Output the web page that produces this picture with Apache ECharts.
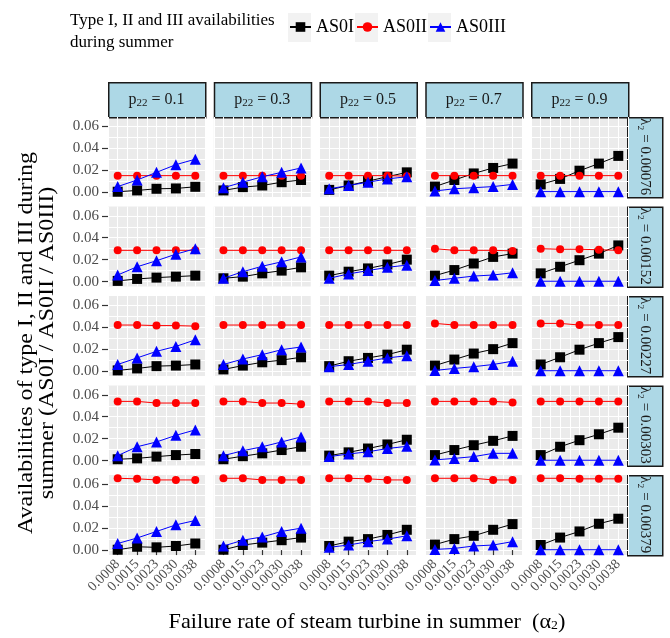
<!DOCTYPE html>
<html lang="en">
<head>
    <meta charset="UTF-8">
    <title>AS0 availabilities</title>
    <script src="https://cdn.jsdelivr.net/npm/echarts@6/dist/echarts.min.js"></script>
    <style type="text/css">
        *{
            padding: 0px;
            margin: 0px;
            border: 0px;
        }
        #main{
            width: 670px;
            height: 638px;
        }
    </style>
</head>
<body>
<div id="main"></div>
<script>

    // facet labels and ticks
    var xLabels = ['0.0008', '0.0015', '0.0023', '0.0030', '0.0038'];
    var p22Labels = ['0.1', '0.3', '0.5', '0.7', '0.9'];
    var lambdaLabels = ['0.00076', '0.00152', '0.00227', '0.00303', '0.00379'];
    var yTicks = [0, 0.02, 0.04, 0.06];
    var yGridValues = [0, 0.01, 0.02, 0.03, 0.04, 0.05, 0.06];

    // AS0I[row][col] -> 5 values, row = lambda2, col = p22
    var AS0I = [
        [[0.0003, 0.0015, 0.003, 0.0033, 0.0048], [0.0015, 0.0045, 0.006, 0.009, 0.011], [0.002, 0.006, 0.010, 0.014, 0.018], [0.005, 0.011, 0.017, 0.022, 0.026], [0.007, 0.012, 0.0195, 0.026, 0.033]],
        [[0.0006, 0.0024, 0.0036, 0.0045, 0.0054], [0.003, 0.0045, 0.0075, 0.010, 0.013], [0.0054, 0.009, 0.012, 0.0156, 0.020], [0.0054, 0.0105, 0.0165, 0.0225, 0.0255], [0.0075, 0.0135, 0.0195, 0.0255, 0.033]],
        [[0.0006, 0.0024, 0.0045, 0.005, 0.006], [0.0015, 0.005, 0.008, 0.010, 0.0126], [0.0045, 0.009, 0.012, 0.015, 0.0195], [0.005, 0.0105, 0.016, 0.020, 0.0255], [0.006, 0.0126, 0.0195, 0.0255, 0.031]],
        [[0.0012, 0.002, 0.0036, 0.005, 0.006], [0.0012, 0.004, 0.0066, 0.0096, 0.0126], [0.0045, 0.0075, 0.011, 0.0147, 0.019], [0.005, 0.0096, 0.014, 0.018, 0.0225], [0.005, 0.0126, 0.0186, 0.024, 0.030]],
        [[0.0003, 0.003, 0.0025, 0.0037, 0.006], [0.0003, 0.0046, 0.0068, 0.009, 0.0114], [0.0037, 0.0077, 0.010, 0.0138, 0.0185], [0.005, 0.010, 0.013, 0.0185, 0.0237], [0.0046, 0.0114, 0.017, 0.024, 0.0286]]
    ];
    var AS0II = [
        [[0.015, 0.015, 0.015, 0.015, 0.015], [0.015, 0.015, 0.015, 0.015, 0.015], [0.015, 0.015, 0.015, 0.015, 0.0145], [0.015, 0.015, 0.015, 0.015, 0.015], [0.015, 0.015, 0.015, 0.015, 0.015]],
        [[0.0285, 0.0285, 0.0285, 0.0285, 0.0285], [0.0285, 0.0285, 0.0285, 0.0285, 0.0285], [0.0285, 0.0285, 0.0285, 0.0285, 0.0285], [0.030, 0.0285, 0.0285, 0.0285, 0.028], [0.030, 0.0295, 0.0295, 0.029, 0.0285]],
        [[0.042, 0.042, 0.0415, 0.0415, 0.041], [0.042, 0.042, 0.042, 0.042, 0.042], [0.042, 0.042, 0.042, 0.042, 0.042], [0.0435, 0.042, 0.042, 0.042, 0.042], [0.0435, 0.0435, 0.042, 0.042, 0.042]],
        [[0.054, 0.054, 0.0525, 0.0525, 0.0525], [0.054, 0.054, 0.0525, 0.0525, 0.0515], [0.054, 0.054, 0.054, 0.0525, 0.0525], [0.054, 0.054, 0.054, 0.054, 0.053], [0.054, 0.054, 0.054, 0.054, 0.054]],
        [[0.0655, 0.065, 0.064, 0.064, 0.064], [0.0655, 0.0655, 0.064, 0.064, 0.064], [0.0655, 0.0655, 0.065, 0.064, 0.064], [0.0655, 0.0655, 0.0655, 0.064, 0.064], [0.0655, 0.0655, 0.065, 0.065, 0.065]]
    ];
    var AS0III = [
        [[0.005, 0.011, 0.018, 0.025, 0.030], [0.004, 0.009, 0.014, 0.018, 0.022], [0.003, 0.006, 0.009, 0.012, 0.014], [0.001, 0.003, 0.004, 0.005, 0.007], [0.0004, 0.0004, 0.0004, 0.0004, 0.0004]],
        [[0.006, 0.0135, 0.019, 0.025, 0.030], [0.003, 0.009, 0.014, 0.018, 0.0225], [0.003, 0.007, 0.010, 0.013, 0.015], [0.001, 0.003, 0.005, 0.006, 0.008], [0.0003, 0.0003, 0.0003, 0.0003, 0.0003]],
        [[0.006, 0.012, 0.018, 0.0225, 0.0285], [0.006, 0.011, 0.015, 0.0195, 0.022], [0.004, 0.006, 0.009, 0.012, 0.014], [0.0006, 0.0024, 0.004, 0.006, 0.009], [0.0003, 0.0003, 0.0003, 0.0003, 0.0003]],
        [[0.0045, 0.0126, 0.017, 0.023, 0.028], [0.0045, 0.009, 0.0126, 0.017, 0.0216], [0.0036, 0.006, 0.008, 0.011, 0.013], [0.0006, 0.002, 0.0036, 0.0066, 0.0066], [0.0003, 0.0003, 0.0003, 0.0003, 0.0003]],
        [[0.006, 0.011, 0.017, 0.023, 0.027], [0.0037, 0.009, 0.012, 0.017, 0.020], [0.0025, 0.0046, 0.0077, 0.010, 0.013], [0.0006, 0.0015, 0.0037, 0.0046, 0.0077], [0.0003, 0.0003, 0.0003, 0.0003, 0.0003]]
    ];

    var serif = '"Liberation Serif", "DejaVu Serif", serif';

    // panel layout
    var panelLeft = 108, panelTop = 117, panelW = 97, panelH = 80;
    var colStep = 105.75, rowStep = 89.5;
    var yMin = -0.0045, yMax = 0.0685;

    var grids = [], xAxes = [], yAxes = [], series = [], graphics = [];

    function toPoints(vals) {
        return vals.map(function (v, k) { return [k + 1, v]; });
    }

    // bottom axis with rotated labels; odd / even labels go on separate axes
    // so that the overlapping labels are all kept, as in the original
    function labelAxis(gi, show, values, withTicks) {
        return {
            gridIndex: gi, type: 'value', position: 'bottom', min: 0.5, max: 5.5,
            axisLine: {show: false},
            splitLine: {show: false},
            axisTick: {show: show && withTicks, customValues: [1, 2, 3, 4, 5], length: 5, lineStyle: {color: '#333333', width: 1.2}},
            axisLabel: {
                show: show, customValues: values, rotate: 45, margin: 7,
                color: '#4D4D4D', fontSize: 14, fontFamily: serif,
                formatter: function (v) { return xLabels[Math.round(v) - 1]; }
            }
        };
    }

    for (var r = 0; r < 5; r++) {
        for (var c = 0; c < 5; c++) {
            var gi = r * 5 + c;
            grids.push({
                left: panelLeft + c * colStep,
                top: panelTop + r * rowStep,
                width: panelW,
                height: panelH,
                show: true,
                backgroundColor: '#EBEBEB',
                borderWidth: 0
            });
            // grid-line axes (white lines only)
            xAxes.push({
                gridIndex: gi, type: 'value', position: 'bottom', min: 0.5, max: 5.5, interval: 0.5,
                axisLine: {show: false}, axisTick: {show: false}, axisLabel: {show: false},
                splitLine: {show: true, lineStyle: {color: '#FFFFFF', width: 1}}
            });
            xAxes.push(labelAxis(gi, r === 4, [1, 3, 5], true));
            xAxes.push(labelAxis(gi, r === 4, [2, 4], false));
            yAxes.push({
                gridIndex: gi, type: 'value', position: 'left', min: yMin, max: yMax,
                axisLine: {show: false}, axisLabel: {show: false},
                axisTick: {show: false, customValues: yGridValues},
                splitLine: {show: true, lineStyle: {color: '#FFFFFF', width: 1}}
            });
            yAxes.push({
                gridIndex: gi, type: 'value', position: 'left', min: yMin, max: yMax,
                axisLine: {show: false},
                splitLine: {show: false},
                axisTick: {show: c === 0, customValues: yTicks, length: 6, lineStyle: {color: '#333333', width: 1.2}},
                axisLabel: {
                    show: c === 0, customValues: yTicks, margin: 9,
                    color: '#4D4D4D', fontSize: 15, fontFamily: serif,
                    formatter: function (v) { return v.toFixed(2); }
                }
            });
            var xi = gi * 3 + 1, yi = gi * 2 + 1;
            series.push({
                name: 'AS0I', type: 'line', xAxisIndex: xi, yAxisIndex: yi,
                data: toPoints(AS0I[r][c]), symbol: 'rect', symbolSize: 10,
                color: '#000000', lineStyle: {width: 1}, z: 3
            });
            series.push({
                name: 'AS0II', type: 'line', xAxisIndex: xi, yAxisIndex: yi,
                data: toPoints(AS0II[r][c]), symbol: 'circle', symbolSize: 8,
                color: '#FF0000', lineStyle: {width: 1}, z: 4
            });
            series.push({
                name: 'AS0III', type: 'line', xAxisIndex: xi, yAxisIndex: yi,
                data: toPoints(AS0III[r][c]), symbol: 'triangle', symbolSize: 11,
                color: '#0000FF', lineStyle: {width: 1}, z: 5
            });
        }
    }

    // strip labels on top
    for (var c = 0; c < 5; c++) {
        graphics.push({
            type: 'rect', left: panelLeft + c * colStep, top: 82,
            shape: {width: panelW, height: 35},
            style: {fill: '#ADD8E6', stroke: '#1A1A1A', lineWidth: 1.5}
        });
        graphics.push({
            type: 'text', x: panelLeft + c * colStep + panelW / 2, y: 100,
            style: {
                text: '{a|p}{s|22}{a| = ' + p22Labels[c] + '}',
                align: 'center', verticalAlign: 'middle',
                rich: {
                    a: {fontFamily: serif, fontSize: 16, fill: '#1A1A1A'},
                    s: {fontFamily: serif, fontSize: 11, fill: '#1A1A1A', padding: [6, 0, 0, 0]}
                }
            }
        });
    }
    // strip labels on the right
    for (var r = 0; r < 5; r++) {
        graphics.push({
            type: 'rect', left: 627, top: panelTop + r * rowStep,
            shape: {width: 35, height: panelH},
            style: {fill: '#ADD8E6', stroke: '#1A1A1A', lineWidth: 1.5}
        });
        graphics.push({
            type: 'text', x: 645, y: panelTop + r * rowStep + 1,
            rotation: -Math.PI / 2,
            style: {
                text: 'λ₂ = ' + lambdaLabels[r],
                align: 'left', verticalAlign: 'middle',
                width: 79, overflow: 'truncate', ellipsis: '',
                fontFamily: serif, fontSize: 15, fill: '#1A1A1A'
            }
        });
    }
    // legend key backgrounds
    [288, 355, 428].forEach(function (x) {
        graphics.push({
            type: 'rect', left: x, top: 13, z: -1,
            shape: {width: 23, height: 29},
            style: {fill: '#F2F2F2'}
        });
    });
    // title of legend
    graphics.push({
        type: 'text', x: 70, y: 32,
        style: {
            text: 'Type I, II and III availabilities\nduring summer',
            align: 'left', verticalAlign: 'middle', lineHeight: 22,
            fontFamily: serif, fontSize: 17, fill: '#000000'
        }
    });
    // axis titles
    graphics.push({
        type: 'text', x: 37, y: 343, rotation: Math.PI / 2, scaleX: 1.2,
        style: {
            text: 'Availabilities of type I, II and III during\nsummer (AS0I / AS0II / AS0III)',
            align: 'center', verticalAlign: 'middle', lineHeight: 21,
            fontFamily: serif, fontSize: 20, fill: '#000000'
        }
    });
    graphics.push({
        type: 'text', x: 367, y: 622, scaleX: 1.06,
        style: {
            text: '{a|Failure rate of steam turbine in summer  (α}{s|2}{a|)}',
            align: 'center', verticalAlign: 'middle',
            rich: {
                a: {fontFamily: serif, fontSize: 21, fill: '#000000'},
                s: {fontFamily: serif, fontSize: 13, fill: '#000000', padding: [8, 0, 0, 0]}
            }
        }
    });

    var legendBase = {
        orient: 'horizontal', top: 18, padding: 0, itemWidth: 21, itemHeight: 12, itemGap: 4,
        textStyle: {fontFamily: serif, fontSize: 18, color: '#000000'}
    };
    var legends = [['AS0I', 289], ['AS0II', 356], ['AS0III', 429]].map(function (d) {
        return Object.assign({}, legendBase, {data: [d[0]], left: d[1]});
    });

    var option = {
        animation: false,
        backgroundColor: '#FFFFFF',
        legend: legends,
        grid: grids,
        xAxis: xAxes,
        yAxis: yAxes,
        series: series,
        graphic: graphics
    };
    var chart = echarts.init(document.getElementById('main'));
    chart.setOption(option);

</script>
</body>
</html>
